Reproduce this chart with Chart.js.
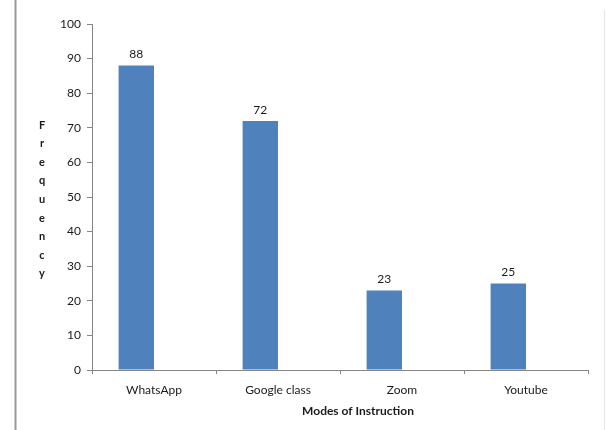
<!DOCTYPE html>
<html>
<head>
<meta charset="utf-8">
<script src="https://cdn.jsdelivr.net/npm/chart.js@4/dist/chart.umd.min.js"></script>
<style>
  html, body { margin: 0; padding: 0; background: #fff; }
  #wrap { width: 606px; height: 430px; }
</style>
</head>
<body>
<div id="wrap"><canvas id="chart" width="606" height="430"></canvas></div>
<script>
// 数据
const modes = ['WhatsApp', 'Google class', 'Zoom', 'Youtube'];
const frequency = [88, 72, 23, 25];
const emptySeries = [null, null, null, null];
const yTitle = 'Frequency';
const xTitle = 'Modes of Instruction';

const axisColor = '#868686';
const textColor = '#1a1a1a';
const fontFamily = 'Lato, "Liberation Sans", sans-serif';

// 柱顶数值、坐标轴标题和外框
const extrasPlugin = {
  id: 'extras',
  afterDatasetsDraw(chart) {
    const ctx = chart.ctx;
    const meta = chart.getDatasetMeta(0);
    ctx.save();
    ctx.fillStyle = textColor;
    ctx.font = '12px ' + fontFamily;
    ctx.textAlign = 'center';
    ctx.textBaseline = 'middle';
    meta.data.forEach((bar, i) => {
      ctx.fillText(String(frequency[i]), bar.x, bar.y - 11);
    });

    // 竖排的 y 轴标题
    ctx.font = 'bold 11px ' + fontFamily;
    const letters = yTitle.split('');
    letters.forEach((ch, i) => {
      ctx.fillText(ch, 42, 125 + i * 18.6);
    });

    // x 轴标题
    ctx.font = 'bold 12px ' + fontFamily;
    ctx.fillText(xTitle, 358, 411);

    // 外框
    ctx.strokeStyle = '#9a9a9a';
    ctx.lineWidth = 2;
    ctx.beginPath();
    ctx.moveTo(15.5, 0);
    ctx.lineTo(15.5, 430);
    ctx.stroke();
    ctx.strokeStyle = '#e4e4e4';
    ctx.lineWidth = 1;
    ctx.beginPath();
    ctx.moveTo(604.5, 10);
    ctx.lineTo(604.5, 430);
    ctx.stroke();
    ctx.restore();
  }
};

const ctx = document.getElementById('chart').getContext('2d');
new Chart(ctx, {
  type: 'bar',
  data: {
    labels: modes,
    datasets: [
      {
        data: frequency,
        backgroundColor: '#4F81BD',
        categoryPercentage: 0.571,
        barPercentage: 1.0
      },
      {
        data: emptySeries,
        backgroundColor: '#C0504D',
        categoryPercentage: 0.571,
        barPercentage: 1.0
      }
    ]
  },
  options: {
    responsive: false,
    animation: false,
    layout: { padding: { left: 0, right: 18, top: 24, bottom: 0 } },
    plugins: {
      legend: { display: false },
      tooltip: { enabled: false }
    },
    scales: {
      x: {
        offset: true,
        grid: {
          offset: true,
          drawOnChartArea: false,
          tickLength: 4,
          color: axisColor
        },
        border: { color: axisColor, width: 1 },
        ticks: {
          color: textColor,
          font: { family: fontFamily, size: 12 },
          padding: 9,
          maxRotation: 0
        },
        afterFit(scale) { scale.height = 60; }
      },
      y: {
        min: 0,
        max: 100,
        grid: {
          drawOnChartArea: false,
          tickLength: 5,
          color: axisColor
        },
        border: { color: axisColor, width: 1 },
        ticks: {
          stepSize: 10,
          color: textColor,
          font: { family: fontFamily, size: 12 },
          padding: 6
        },
        afterFit(scale) { scale.width = 92; }
      }
    }
  },
  plugins: [extrasPlugin]
});
</script>
</body>
</html>
